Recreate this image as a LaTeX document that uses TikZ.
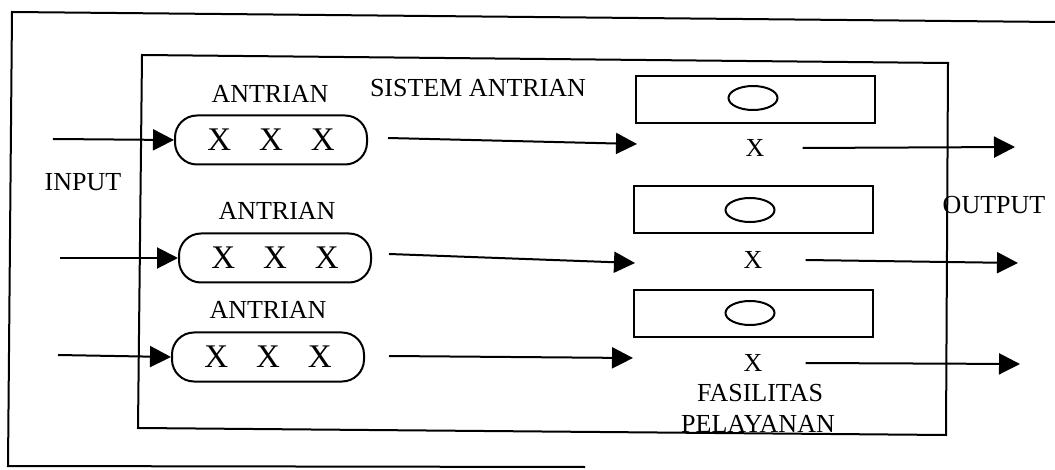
\documentclass[tikz,border=0pt]{standalone}
\usepackage{fontspec}
\setmainfont{Liberation Serif}
\usetikzlibrary{arrows.meta,shapes.geometric}
\begin{document}
\begin{tikzpicture}[x=1pt,y=-1pt,
  line/.style={line width=2pt},
  arr/.style={line width=2pt,-{Triangle[length=21pt,width=21pt]}},
  lbl/.style={font=\fontsize{26}{28}\selectfont,inner sep=0pt},
  queue/.style={draw,line width=2pt,rounded corners=22pt,minimum width=192pt,minimum height=49pt,inner sep=0pt,font=\fontsize{33}{36}\selectfont},
  serv/.style={draw,line width=2pt,minimum width=239pt,minimum height=47pt,inner sep=0pt},
  oval/.style={draw,ellipse,line width=2pt,minimum width=49pt,minimum height=24pt,inner sep=0pt}
]
\useasboundingbox (0,0) rectangle (1055,470);
% frames
\draw[line] (1055,22) -- (12,12) -- (8,466) -- (585,467);
\draw[line] (142,55) -- (948,63) -- (946,435) -- (138,428) -- cycle;
% labels
\node[lbl] (lq1) at (270,94) {ANTRIAN};
\node[lbl] (sys) at (478,88) {SISTEM ANTRIAN};
\node[lbl] (inp) at (83,182) {INPUT};
\node[lbl] (lq2) at (277,211) {ANTRIAN};
\node[lbl] (lq3) at (268,310) {ANTRIAN};
\node[lbl] (out) at (994,205) {OUTPUT};
\node[lbl] (fas) at (760,393) {FASILITAS};
\node[lbl] (pel) at (758,424) {PELAYANAN};
% queues
\node[queue] (q1) at (271,140) {X\hspace{28pt}X\hspace{28pt}X};
\node[queue] (q2) at (275,258) {X\hspace{28pt}X\hspace{28pt}X};
\node[queue] (q3) at (268,357) {X\hspace{28pt}X\hspace{28pt}X};
% service facilities
\node[serv] (s1) at (755,100) {};
\node[serv] (s2) at (753,210) {};
\node[serv] (s3) at (753,314) {};
\node[oval] (e1) at (753,98) {};
\node[oval] (e2) at (750,210) {};
\node[oval] (e3) at (750,313) {};
\node[lbl] (x1) at (755,148) {X};
\node[lbl] (x2) at (753,260) {X};
\node[lbl] (x3) at (753,363) {X};
% coordinates
\coordinate (in1) at (53,139);
\coordinate (in2) at (60,258);
\coordinate (in3) at (58,355);
\coordinate (m1) at (637,144);
\coordinate (m2) at (635,263);
\coordinate (m3) at (633,358);
\coordinate (o1) at (1015,147);
\coordinate (o2) at (1018,263);
\coordinate (o3) at (1020,364);
% arrows
\draw[arr] (in1) -- (q1.west);
\draw[arr] (in2) -- (q2.west);
\draw[arr] (in3) -- (q3.west);
\draw[arr] ([xshift=20pt,yshift=2pt]q1.east) -- (m1);
\draw[arr] ([xshift=17pt,yshift=4pt]q2.east) -- (m2);
\draw[arr] ([xshift=24pt,yshift=1pt]q3.east) -- (m3);
\draw[arr] ([xshift=38pt]x1.east) -- (o1);
\draw[arr] ([xshift=43pt]x2.east) -- (o2);
\draw[arr] ([xshift=43pt]x3.east) -- (o3);
\end{tikzpicture}
\end{document}
